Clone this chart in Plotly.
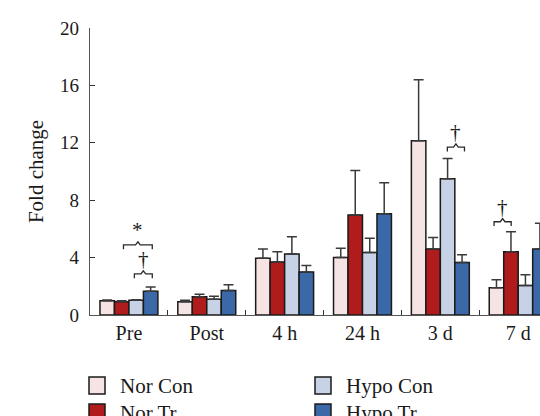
import plotly.graph_objects as go

categories = ["Pre", "Post", "4 h", "24 h", "3 d", "7 d"]
series_names = ["Nor Con", "Nor Tr", "Hypo Con", "Hypo Tr"]
nor_con = [1.0, 0.93, 3.95, 4.0, 12.15, 1.9]
nor_con_err = [0.05, 0.1, 0.65, 0.65, 4.25, 0.55]
nor_tr = [0.92, 1.28, 3.7, 6.97, 4.6, 4.4]
nor_tr_err = [0.08, 0.16, 0.7, 3.1, 0.8, 1.4]
hypo_con = [1.02, 1.1, 4.25, 4.35, 9.5, 2.05]
hypo_con_err = [0.05, 0.2, 1.2, 1.0, 1.4, 0.75]
hypo_tr = [1.65, 1.7, 3.0, 7.06, 3.65, 4.6]
hypo_tr_err = [0.3, 0.4, 0.45, 2.15, 0.55, 1.8]
y_ticks = [0, 4, 8, 12, 16, 20]

colors = ["#f6e4e4", "#b01c1c", "#c8d2e6", "#3b69a8"]
values = [nor_con, nor_tr, hypo_con, hypo_tr]
errors = [nor_con_err, nor_tr_err, hypo_con_err, hypo_tr_err]

FONT = "Liberation Serif"
W, H = 540, 416
ML, MR, MT, MB = 90, 0, 28, 101
PW, PH = W - ML - MR, H - MT - MB


def px_x(x):
    return (x - ML) / PW


def px_y(y):
    return (H - MB - y) / PH


fig = go.Figure()
for name, vals, errs, col in zip(series_names, values, errors, colors):
    fig.add_trace(go.Bar(
        x=categories, y=vals, name=name, showlegend=False,
        marker=dict(color=col, line=dict(color="#1a1a1a", width=1.5)),
        error_y=dict(type="data", symmetric=False, array=errs,
                     arrayminus=[0] * len(errs), color="#3a3a3a",
                     thickness=1.5, width=5),
    ))

# significance brackets: (group index, left offset, right offset, y, symbol)
brackets = [
    (0, -0.07, 0.30, 4.88, "*"),
    (0, 0.07, 0.30, 2.86, "†"),
    (4, 0.09, 0.31, 11.7, "†"),
    (5, -0.31, -0.09, 6.5, "†"),
]
shapes = []
annotations = []
for g, l, r, yv, sym in brackets:
    x0, x1 = g + l, g + r
    xm = (x0 + x1) / 2
    d, u, e = 0.3, 0.22, 0.03
    path = (f"M{x0},{yv - d} L{x0},{yv} L{xm - e},{yv} L{xm},{yv + u} "
            f"L{xm + e},{yv} L{x1},{yv} L{x1},{yv - d}")
    shapes.append(dict(type="path", path=path, xref="x", yref="y",
                       line=dict(color="#2a2a2a", width=1.3)))
    annotations.append(dict(x=xm, y=yv + u, xref="x", yref="y", text=sym,
                            showarrow=False, yanchor="bottom", yshift=-2,
                            font=dict(family=FONT, size=21, color="#1a1a1a")))

# legend (two columns, second row cut by the figure edge as in the reference)
legend_pos = [(89, 377), (89, 404), (315, 377), (315, 404)]  # Nor Con, Nor Tr, Hypo Con, Hypo Tr
for name, col, (bx, by) in zip(series_names, colors, legend_pos):
    shapes.append(dict(type="rect", xref="paper", yref="paper",
                       x0=px_x(bx), x1=px_x(bx + 16), y0=px_y(by), y1=px_y(by + 17),
                       fillcolor=col, line=dict(color="#1a1a1a", width=1.5)))
    annotations.append(dict(x=px_x(bx + 29), y=px_y(by + 9), xref="paper", yref="paper",
                            text=name, showarrow=False, xanchor="left", yanchor="middle",
                            font=dict(family=FONT, size=21, color="#1a1a1a")))

fig.update_layout(
    width=W, height=H,
    margin=dict(l=ML, r=MR, t=MT, b=MB),
    paper_bgcolor="white", plot_bgcolor="white",
    barmode="group", bargap=0.256, bargroupgap=0,
    font=dict(family=FONT, size=20, color="#1a1a1a"),
    shapes=shapes, annotations=annotations,
    showlegend=False,
)
fig.update_xaxes(
    type="category", range=[-0.5, 5.28],
    showline=True, linecolor="#555", linewidth=1.2,
    ticks="inside", tickson="boundaries", ticklen=5, tickcolor="#333",
    showgrid=False, zeroline=False,
    tickfont=dict(family=FONT, size=20),
)
fig.update_yaxes(
    range=[0, 20], tickvals=y_ticks, ticktext=[str(v) for v in y_ticks],
    showline=True, linecolor="#555", linewidth=1.2,
    ticks="inside", ticklen=5, tickcolor="#333",
    showgrid=False, zeroline=False,
    ticklabelstandoff=6,
    tickfont=dict(family=FONT, size=19),
    title=dict(text="Fold change", font=dict(family=FONT, size=21), standoff=10),
)

fig.write_html("out.html")
